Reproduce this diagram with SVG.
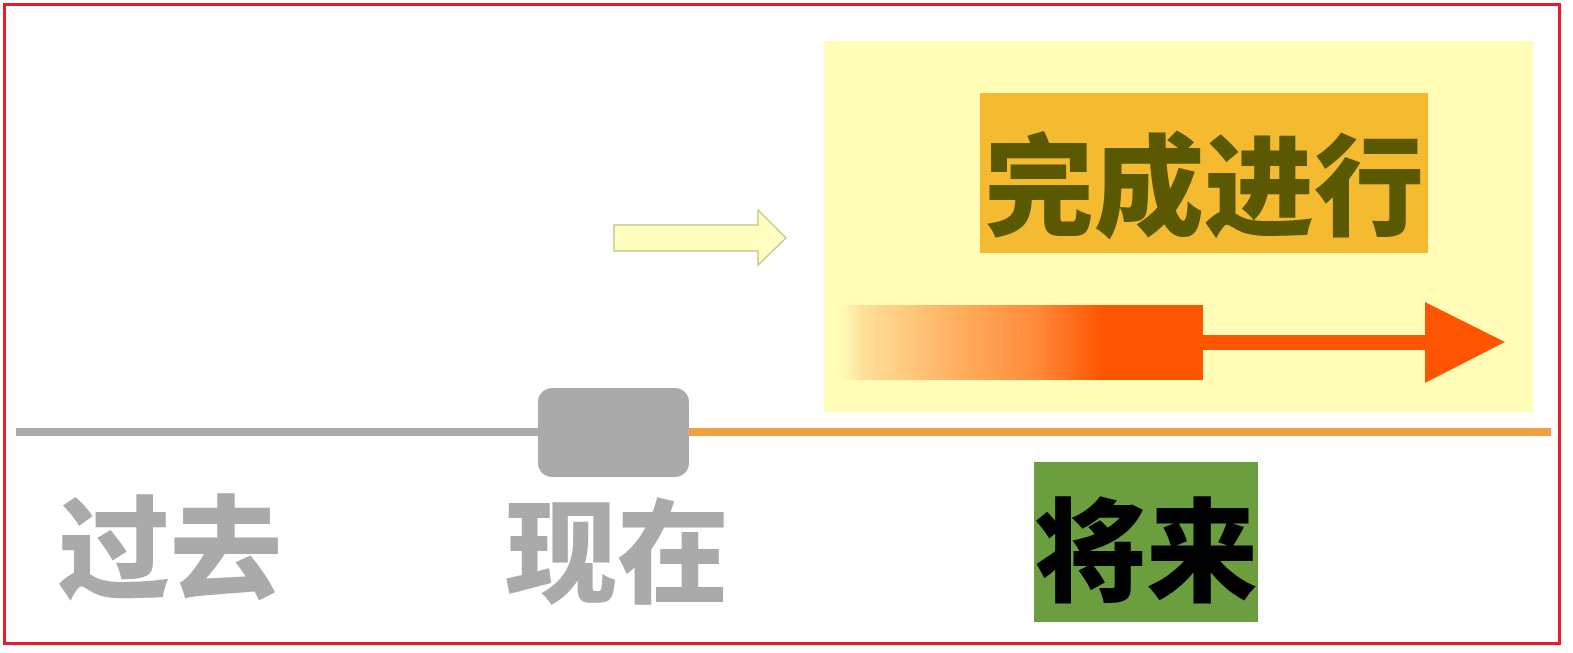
<svg xmlns="http://www.w3.org/2000/svg" width="1573" height="653" viewBox="0 0 1573 653">
<defs>
<style>
.cjk{font-family:"Noto Sans CJK SC","Noto Sans CJK JP",sans-serif;font-weight:900;text-anchor:middle}
</style>
<linearGradient id="g" gradientUnits="userSpaceOnUse" x1="835" y1="0" x2="1505" y2="0">
<stop offset="0" stop-color="#fff0b0" stop-opacity="0"/>
<stop offset="0.04" stop-color="#ffe09a"/>
<stop offset="0.18" stop-color="#ffb060"/>
<stop offset="0.3" stop-color="#ff8a3a"/>
<stop offset="0.4" stop-color="#ff5500"/>
<stop offset="1" stop-color="#ff5500"/>
</linearGradient>
</defs>
<rect x="0" y="0" width="1573" height="653" fill="#ffffff"/>
<rect x="4.5" y="4.5" width="1555" height="639" fill="none" stroke="#e81c2a" stroke-width="3"/>
<g id="future-panel">
<rect x="824" y="41" width="709" height="371" fill="#fffdb8"/>
</g>
<g id="title">
<rect x="980" y="93" width="448" height="160" fill="#f4ba30"/>
<text class="cjk" x="1204" y="227" font-size="110" fill="#5a5800">完成进行</text>
</g>
<g id="connectors">
<path d="M614 225 H758 V210 L786 238 L758 265 V251 H614 Z" fill="#ffffc0" stroke="#c8c890" stroke-width="1.5"/>
<path d="M835 305 H1203 V335 H1425 V302 L1505 342 L1425 383 V350 H1203 V380 H835 Z" fill="url(#g)"/>
<line x1="16" y1="432" x2="540" y2="432" stroke="#aaaaaa" stroke-width="8"/>
<line x1="688" y1="432" x2="1551" y2="432" stroke="#f0a040" stroke-width="8"/>
</g>
<g id="now-marker">
<rect x="538" y="388" width="151" height="89" rx="14" fill="#aaaaaa"/>
</g>
<g id="past">
<text class="cjk" x="170" y="590" font-size="112" fill="#aaaaaa">过去</text>
</g>
<g id="present">
<text class="cjk" x="617" y="594" font-size="112" fill="#aaaaaa">现在</text>
</g>
<g id="future">
<rect x="1034" y="462" width="224" height="160" fill="#6a9e3e"/>
<text class="cjk" x="1146" y="593" font-size="112" fill="#000000">将来</text>
</g>
</svg>
